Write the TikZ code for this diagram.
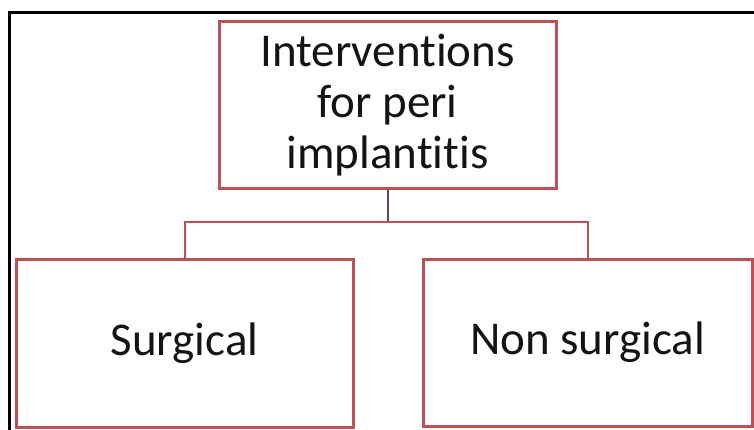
\documentclass[tikz,border=0pt]{standalone}
\usepackage{fontspec}
\setmainfont{Carlito}[Ligatures={NoCommon,NoRare,NoContextual}]
\definecolor{boxred}{RGB}{188,80,84}
\definecolor{stemcol}{RGB}{110,70,72}
\definecolor{txt}{RGB}{20,20,20}
\tikzset{
  box/.style={draw=boxred, line width=3pt, fill=white, rectangle, align=center,
    text=txt, font=\fontsize{47}{51}\selectfont, inner sep=0pt},
  link/.style={draw=boxred, line width=2pt},
  stem/.style={draw=stemcol, line width=2pt},
  frame/.style={draw=black, line width=3pt}
}
\begin{document}
\begin{tikzpicture}[x=1pt,y=-1pt]
\useasboundingbox (0,0) rectangle (754,430);
\fill[white] (0,0) rectangle (754,430);
\draw[frame] (9,440) -- (9,13) -- (760,13);
\node[box, minimum width=337pt, minimum height=167pt] (top) at (387.5,105.5)
  {Interventions\\for peri\\implantitis};
\node[box, minimum width=337pt, minimum height=168pt] (left) at (184.5,343) {Surgical};
\node[box, minimum width=329pt, minimum height=167pt] (right) at (587.5,342.5) {Non surgical};
\coordinate (j) at (387.5,222);
\draw[stem] (top.south) -- (j);
\draw[link] (left.north) |- (j) -| (right.north);
\end{tikzpicture}
\end{document}
